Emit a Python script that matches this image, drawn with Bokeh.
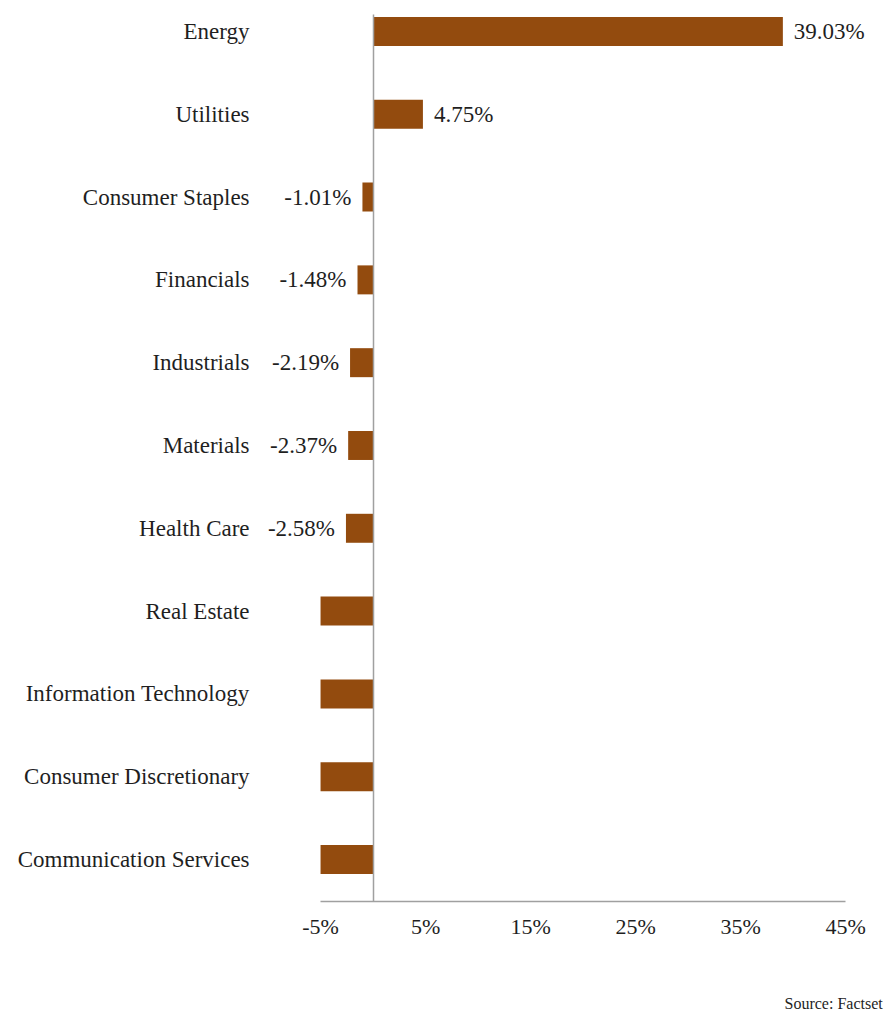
from bokeh.plotting import figure
from bokeh.models import (ColumnDataSource, FixedTicker, PrintfTickFormatter, LabelSet,
                          Label, Range1d, LinearAxis)
from bokeh.core.properties import value
from bokeh.embed import file_html
from bokeh.resources import INLINE

categories = ["Energy", "Utilities", "Consumer Staples", "Financials", "Industrials",
              "Materials", "Health Care", "Real Estate", "Information Technology",
              "Consumer Discretionary", "Communication Services"]
values = [39.03, 4.75, -1.01, -1.48, -2.19, -2.37, -2.58, -6.2, -8.4, -9.0, -11.9]
x_ticks = [-5, 5, 15, 25, 35, 45]
x_min, x_max = -5, 45
source_note = "Source: Factset"

FONT = "Liberation Serif"
TEXT = "#1f1f1f"
BAR = "#934B0E"
AXIS = "#a0a0a0"

n = len(categories)
ypos = [n - 1 - i for i in range(n)]
bar_left = [max(v, x_min) for v in values]
src = ColumnDataSource(dict(y=ypos, v=values, left=bar_left, cat=categories))

lab_idx = [i for i, v in enumerate(values) if v >= x_min]
lab_src = ColumnDataSource(dict(
    y=[ypos[i] for i in lab_idx],
    v=[values[i] for i in lab_idx],
    txt=["%.2f%%" % values[i] for i in lab_idx],
    off=[11 if values[i] >= 0 else -11 for i in lab_idx],
    align=["left" if values[i] >= 0 else "right" for i in lab_idx],
))

# plot area spans the whole canvas; axes are placed at fixed locations inside it
axis_y = -0.507          # level of the value axis (just below last category)
top_y = n - 1 + 0.205    # top end of the zero line
p = figure(width=886, height=1014, output_backend="svg", toolbar_location=None,
           x_axis_location=None, y_axis_location=None,
           x_range=Range1d(-35.48, 48.9), y_range=Range1d(-1.872, n - 1 + 0.374))
p.min_border = 0
p.outline_line_color = None
p.xgrid.visible = False
p.ygrid.visible = False

p.hbar(y="y", left="left", right=0, height=0.35, source=src, fill_color=BAR, line_color=None)

# category labels, right-aligned just left of the value axis start
p.text(x=x_min, y="y", text="cat", source=src, x_offset=-71,
       text_align="right", text_baseline="middle",
       text_font=value(FONT), text_font_size="23px", text_color=TEXT)

labels = LabelSet(x="v", y="y", text="txt", x_offset="off", source=lab_src,
                  text_align="align", text_baseline="middle",
                  text_font=FONT, text_font_size="23px", text_color=TEXT)
p.add_layout(labels)

xa = LinearAxis(fixed_location=axis_y, bounds=(x_min, x_max),
                ticker=FixedTicker(ticks=x_ticks),
                formatter=PrintfTickFormatter(format="%d%%"))
xa.axis_line_color = AXIS
xa.axis_line_width = 1.5
xa.major_tick_line_color = None
xa.minor_tick_line_color = None
xa.major_label_text_font = FONT
xa.major_label_text_font_size = "22px"
xa.major_label_text_color = TEXT
xa.major_label_standoff = 7
p.add_layout(xa, "below")

ya = LinearAxis(fixed_location=0, bounds=(axis_y, top_y), ticker=FixedTicker(ticks=[]))
ya.axis_line_color = AXIS
ya.axis_line_width = 1.5
ya.major_tick_line_color = None
ya.minor_tick_line_color = None
ya.major_label_text_alpha = 0
p.add_layout(ya, "left")

p.add_layout(Label(x=784, y=11, x_units="screen", y_units="screen", text=source_note,
                   text_font=FONT, text_font_size="16px", text_color=TEXT,
                   text_baseline="middle"))

open("out.html", "w").write(file_html(p, INLINE))
